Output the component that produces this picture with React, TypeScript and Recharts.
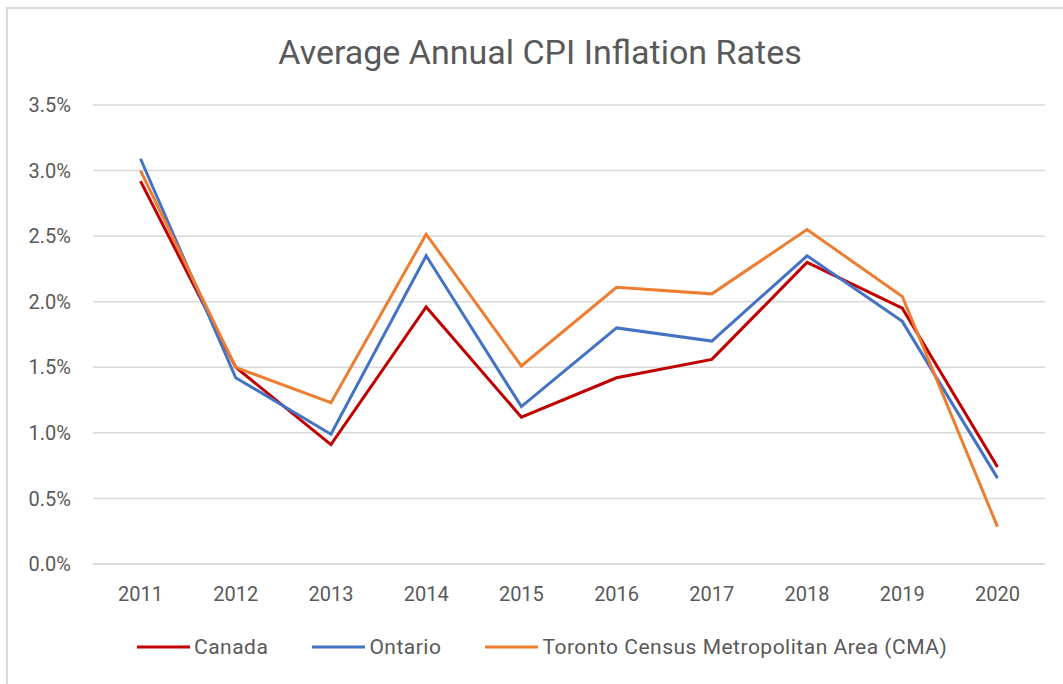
import React from 'react';
import { LineChart, Line, XAxis, YAxis, CartesianGrid, Legend } from 'recharts';

const years = ['2011', '2012', '2013', '2014', '2015', '2016', '2017', '2018', '2019', '2020'];
const canada = [2.92, 1.5, 0.91, 1.96, 1.12, 1.42, 1.56, 2.3, 1.95, 0.74];
const ontario = [3.09, 1.42, 0.99, 2.35, 1.2, 1.8, 1.7, 2.35, 1.85, 0.655];
const toronto = [3.0, 1.5, 1.23, 2.515, 1.51, 2.11, 2.06, 2.55, 2.04, 0.285];
const yTicks = [0, 0.5, 1, 1.5, 2, 2.5, 3, 3.5];

const seriesNames = ['Canada', 'Ontario', 'Toronto Census Metropolitan Area (CMA)'];
const seriesColors = ['#C00000', '#4472C4', '#ED7D31'];

const data = years.map((y, i) => ({
  year: y,
  canada: canada[i],
  ontario: ontario[i],
  toronto: toronto[i],
}));

const FONT = 'Roboto, sans-serif';
const TEXT = '#595959';

const LegendContent = () => (
  <div style={{ display: 'flex', justifyContent: 'flex-start', paddingLeft: 137, fontFamily: FONT, fontSize: 21, letterSpacing: 0.5, color: TEXT }}>
    {seriesNames.map((n, i) => (
      <div key={n} style={{ display: 'flex', alignItems: 'center', marginRight: i < 2 ? 44 : 0 }}>
        <svg width={53} height={10} style={{ marginRight: 4 }}>
          <line x1={0} y1={5} x2={53} y2={5} stroke={seriesColors[i]} strokeWidth={3} />
        </svg>
        <span>{n}</span>
      </div>
    ))}
  </div>
);

export default function App() {
  return (
    <div style={{ position: 'absolute', left: 0, top: 0, width: 1063, height: 684, background: '#fff', overflow: 'hidden' }}>
      <div
        style={{
          position: 'absolute',
          left: 6,
          top: 7,
          width: 1063,
          height: 684,
          borderLeft: '2px solid #D9D9D9',
          borderTop: '2px solid #D9D9D9',
          boxSizing: 'border-box',
        }}
      />
      <div
        style={{
          position: 'absolute',
          left: 0,
          top: 31,
          width: 1080,
          textAlign: 'center',
          fontFamily: FONT,
          fontSize: 34,
          color: TEXT,
          lineHeight: '42px',
        }}
      >
        Average Annual CPI Inflation Rates
      </div>
      <div style={{ position: 'absolute', left: 0, top: 0 }}>
        <LineChart
          width={1063}
          height={684}
          data={data}
          margin={{ top: 105, right: 18, bottom: 0, left: 0 }}
        >
          <CartesianGrid vertical={false} stroke="#D9D9D9" strokeWidth={1.5} />
          <XAxis
            dataKey="year"
            axisLine={{ stroke: '#D9D9D9', strokeWidth: 1.5 }}
            tickLine={false}
            tickMargin={17}
            height={120}
            padding={{ left: 47.5, right: 47.5 }}
            tick={{ fill: TEXT, fontSize: 20, fontFamily: FONT }}
            interval={0}
          />
          <YAxis
            width={93}
            domain={[0, 3.5]}
            ticks={yTicks}
            axisLine={false}
            tickLine={false}
            tickMargin={16}
            tickFormatter={(v: number) => v.toFixed(1) + '%'}
            tick={{ fill: TEXT, fontSize: 20, fontFamily: FONT }}
          />
          <Legend
            layout="horizontal"
            verticalAlign="middle"
            align="center"
            wrapperStyle={{ top: 635, left: 0, width: 1063 }}
            content={<LegendContent />}
          />
          <Line dataKey="canada" name={seriesNames[0]} stroke={seriesColors[0]} strokeWidth={3} dot={false} isAnimationActive={false} />
          <Line dataKey="ontario" name={seriesNames[1]} stroke={seriesColors[1]} strokeWidth={3} dot={false} isAnimationActive={false} />
          <Line dataKey="toronto" name={seriesNames[2]} stroke={seriesColors[2]} strokeWidth={3} dot={false} isAnimationActive={false} />
        </LineChart>
      </div>
    </div>
  );
}
